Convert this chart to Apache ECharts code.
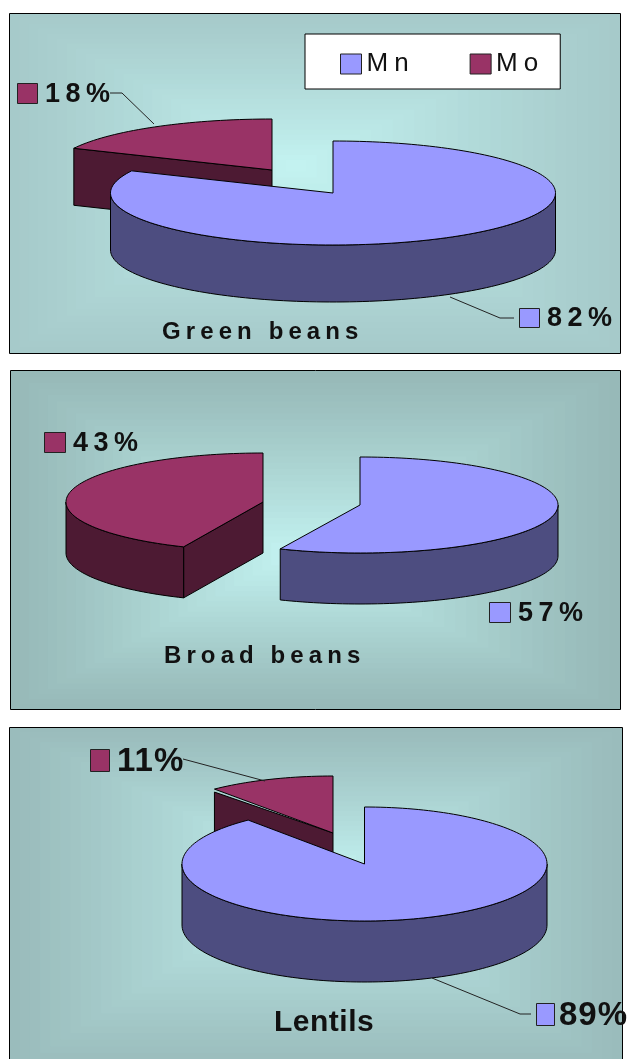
<!DOCTYPE html>
<html>
<head>
<meta charset="utf-8">
<style>html,body{margin:0;padding:0;background:#fff}#c{width:628px;height:1059px}</style>
<script src="https://cdn.jsdelivr.net/npm/echarts@6/dist/echarts.min.js"></script>
</head>
<body>
<div id="c"></div>
<script>
// ---- data ----
const categories = ['Green beans', 'Broad beans', 'Lentils'];
const seriesNames = ['Mn', 'Mo'];
const mnValues = [82, 56.6, 89];
const moValues = [18, 43.4, 11];

// ---- colours ----
const MN_TOP = '#9999FF', MN_SIDE = '#4D4D80', MO_TOP = '#993366', MO_SIDE = '#4D1A33';
const FONT = '"Liberation Sans", Arial, sans-serif';

// ---- layout ----
const panels = [
  {x: 9.5, y: 13.5, w: 611, h: 340, fx: 295, fy: 165, edge: [166, 202, 202], mid: [196, 244, 242]},
  {x: 10.5, y: 370.5, w: 610, h: 339, fx: 290, fy: 555, edge: [151, 185, 184], mid: [196, 244, 242]},
  {x: 9.5, y: 727.5, w: 613, h: 345, fx: 315, fy: 875, edge: [154, 188, 188], mid: [196, 244, 242]}
];
const pies = {
  Mn: [
    {cx: 333, cy: 193, rx: 222.5, ry: 52, d: 57, gap: 0},
    {cx: 360, cy: 505, rx: 198, ry: 48, d: 51, gap: 0},
    {cx: 364.5, cy: 864, rx: 182.5, ry: 57, d: 61, gap: 0}
  ],
  Mo: [
    {cx: 272, cy: 170, rx: 219, ry: 51, d: 57, gap: 0},
    {cx: 263, cy: 502, rx: 197, ry: 49, d: 51, gap: 0},
    {cx: 333, cy: 833, rx: 186, ry: 57, d: 61, gap: 3}
  ]
};
const labels = {
  Mn: [
    {key: [519, 308, 20, 19], tx: 547, ty: 319, size: 27, line: [[450, 297], [500, 318], [514, 318]]},
    {key: [489, 602, 21, 20], tx: 518, ty: 614, size: 27, line: null},
    {key: [536, 1003, 18, 22], tx: 559, ty: 1016, size: 33, line: [[432, 978], [520, 1014], [531, 1014]]}
  ],
  Mo: [
    {key: [17, 83, 20, 20], tx: 45, ty: 95, size: 27, line: [[110, 93], [122, 93], [154, 124]]},
    {key: [44, 432, 21, 20], tx: 73, ty: 444, size: 27, line: null},
    {key: [90, 749, 19, 22], tx: 117, ty: 762, size: 33, line: [[183, 759], [265, 781]]}
  ]
};
const titleLayout = [
  {left: 162, top: 320, size: 24},
  {left: 164, top: 644, size: 24},
  {left: 274, top: 1008, size: 30}
];
// letter spacing of the original text, applied when the text is painted
const tracking = {'Green beans': 5.1, 'Broad beans': 5.1, 'Lentils': 0.5, 'Mn': 6, 'Mo': 6,
  '18%': 5.5, '82%': 5.5, '43%': 5.5, '57%': 5.5, '11%': 1, '89%': 1};

const origFill = CanvasRenderingContext2D.prototype.fillText;
CanvasRenderingContext2D.prototype.fillText = function (t, x, y, m) {
  const f = this.font;
  this.letterSpacing = (tracking[t] || 0) + 'px';
  this.font = f;
  if (m === undefined) origFill.call(this, t, x, y);
  else origFill.call(this, t, x, y, m);
};

function lerp(a, b, t) {
  return 'rgb(' + a.map((v, i) => Math.round(v + (b[i] - v) * t)).join(',') + ')';
}
function panelGraphics() {
  const out = [];
  panels.forEach(p => {
    const STEPS = 30;
    for (let k = 0; k < STEPS; k++) {
      const t = k / STEPS;
      const x0 = p.x + (p.fx - p.x) * t, y0 = p.y + (p.fy - p.y) * t;
      const x1 = p.x + p.w + (p.fx - p.x - p.w) * t, y1 = p.y + p.h + (p.fy - p.y - p.h) * t;
      out.push({type: 'rect', silent: true, z: -10,
        shape: {x: x0, y: y0, width: x1 - x0, height: y1 - y0},
        style: {fill: lerp(p.edge, p.mid, Math.pow(t, 1.15))}});
    }
    out.push({type: 'rect', silent: true, z: -9,
      shape: {x: p.x, y: p.y, width: p.w, height: p.h},
      style: {fill: 'none', stroke: '#000', lineWidth: 1}});
  });
  return out;
}

function makeRender(name, topColor, sideColor) {
  return function (params, api) {
    const idx = api.value(0), value = api.value(1), startPct = api.value(2);
    const g = pies[name][idx], lab = labels[name][idx];
    const s = startPct / 100 * 2 * Math.PI, e = (startPct + value) / 100 * 2 * Math.PI;
    const pt = (a, dy) => [g.cx + g.rx * Math.sin(a), g.cy - g.ry * Math.cos(a) + (dy || 0)];
    const arc = (a, b, dy) => {
      const n = Math.max(2, Math.ceil((b - a) / 0.03)), r = [];
      for (let i = 0; i <= n; i++) r.push(pt(a + (b - a) * i / n, dy));
      return r;
    };
    const poly = (points, fill) => ({type: 'polygon', shape: {points: points},
      style: {fill: fill, stroke: '#000', lineWidth: 1, lineJoin: 'round'}});
    const apex = [g.cx, g.cy], apexD = [g.cx, g.cy + g.d];
    const children = [];
    // radial cut faces that look toward the viewer
    if (Math.sin(s) < -1e-6) children.push(poly([apex, pt(s, g.gap), pt(s, g.d), apexD], sideColor));
    if (Math.sin(e) > 1e-6) children.push(poly([apex, pt(e, g.gap), pt(e, g.d), apexD], sideColor));
    // front rim
    const a0 = Math.max(s, Math.PI / 2), a1 = Math.min(e, 3 * Math.PI / 2);
    if (a1 > a0) children.push(poly(arc(a0, a1, 0).concat(arc(a0, a1, g.d).reverse()), sideColor));
    // top face
    children.push(poly([apex].concat(arc(s, e, 0)), topColor));
    // leader line, key and value label
    if (lab.line) children.push({type: 'polyline', shape: {points: lab.line},
      style: {fill: 'none', stroke: '#222', lineWidth: 1}});
    children.push({type: 'rect', shape: {x: lab.key[0] + .5, y: lab.key[1] + .5, width: lab.key[2], height: lab.key[3]},
      style: {fill: topColor, stroke: '#222', lineWidth: 1}});
    children.push({type: 'text', style: {text: Math.round(value) + '%', x: lab.tx, y: lab.ty,
      font: 'bold ' + lab.size + 'px ' + FONT, fill: '#111', textAlign: 'left', textVerticalAlign: 'middle'}});
    return {type: 'group', children: children};
  };
}

const chart = echarts.init(document.getElementById('c'), null, {renderer: 'canvas', width: 628, height: 1059});
chart.setOption({
  animation: false,
  backgroundColor: '#fff',
  graphic: {elements: panelGraphics()},
  title: categories.map((c, i) => ({
    text: c, left: titleLayout[i].left, top: titleLayout[i].top, padding: 0,
    textStyle: {fontFamily: FONT, fontWeight: 'bold', fontSize: titleLayout[i].size, color: '#111'}
  })),
  legend: {
    left: 305, top: 34, orient: 'horizontal', selectedMode: false,
    padding: [17, 28, 12, 35], itemWidth: 21, itemHeight: 20, itemGap: 67,
    backgroundColor: '#fff', borderColor: '#000', borderWidth: 1,
    textStyle: {fontFamily: FONT, fontSize: 26, color: '#111'},
    data: [
      {name: seriesNames[0], icon: 'rect', itemStyle: {color: MN_TOP, borderColor: '#222', borderWidth: 1}},
      {name: seriesNames[1], icon: 'rect', itemStyle: {color: MO_TOP, borderColor: '#222', borderWidth: 1}}
    ]
  },
  series: [
    {type: 'custom', name: seriesNames[1], coordinateSystem: 'none', z: 2, silent: true,
      itemStyle: {color: MO_TOP},
      renderItem: makeRender('Mo', MO_TOP, MO_SIDE),
      data: moValues.map((v, i) => [i, v, mnValues[i]])},
    {type: 'custom', name: seriesNames[0], coordinateSystem: 'none', z: 3, silent: true,
      itemStyle: {color: MN_TOP},
      renderItem: makeRender('Mn', MN_TOP, MN_SIDE),
      data: mnValues.map((v, i) => [i, v, 0])}
  ]
});
</script>
</body>
</html>
